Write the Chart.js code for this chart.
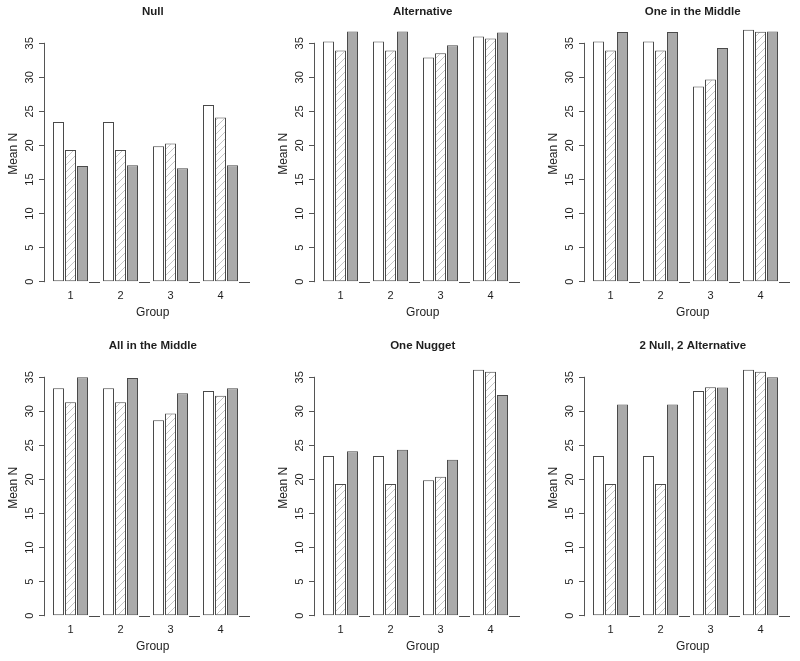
<!DOCTYPE html>
<html>
<head>
<meta charset="utf-8">
<script src="https://cdn.jsdelivr.net/npm/chart.js@4.4.1/dist/chart.umd.min.js"></script>
<style>
  html, body { margin: 0; padding: 0; background: #ffffff; overflow: hidden; width: 800px; height: 661px; }
  canvas.panel { position: absolute; }
</style>
</head>
<body>
<canvas id="p0" class="panel" width="270" height="327" style="left:0px;top:0px"></canvas>
<canvas id="p1" class="panel" width="270" height="327" style="left:270px;top:0px"></canvas>
<canvas id="p2" class="panel" width="270" height="327" style="left:540px;top:0px"></canvas>
<canvas id="p3" class="panel" width="270" height="327" style="left:0px;top:334px"></canvas>
<canvas id="p4" class="panel" width="270" height="327" style="left:270px;top:334px"></canvas>
<canvas id="p5" class="panel" width="270" height="327" style="left:540px;top:334px"></canvas>
<script>
// ---------------- data ----------------
const panelTitles = ['Null', 'Alternative', 'One in the Middle', 'All in the Middle', 'One Nugget', '2 Null, 2 Alternative'];
const groupLabels = ['1', '2', '3', '4'];
const yTickValues = [0, 5, 10, 15, 20, 25, 30, 35];
const seriesNames = ['Series 1', 'Series 2', 'Series 3'];
const xAxisTitle = 'Group';
const yAxisTitle = 'Mean N';

const nullOpen      = [23.45, 23.45, 19.9, 25.95];
const nullHatched   = [19.35, 19.35, 20.3, 24.1];
const nullGrey      = [17.0, 17.1, 16.65, 17.1];

const altOpen       = [35.25, 35.25, 32.9, 36.0];
const altHatched    = [33.95, 33.95, 33.55, 35.7];
const altGrey       = [36.75, 36.75, 34.7, 36.6];

const oneMidOpen    = [35.25, 35.25, 28.65, 37.0];
const oneMidHatched = [33.95, 33.95, 29.7, 36.7];
const oneMidGrey    = [36.65, 36.65, 34.3, 36.75];

const allMidOpen    = [33.4, 33.4, 28.7, 33.0];
const allMidHatched = [31.35, 31.35, 29.7, 32.3];
const allMidGrey    = [35.0, 34.9, 32.65, 33.4];

const nuggetOpen    = [23.45, 23.45, 19.9, 36.1];
const nuggetHatched = [19.35, 19.35, 20.4, 35.8];
const nuggetGrey    = [24.15, 24.35, 22.9, 32.4];

const mixOpen       = [23.45, 23.45, 33.0, 36.1];
const mixHatched    = [19.35, 19.35, 33.55, 35.8];
const mixGrey       = [31.0, 31.0, 33.5, 35.0];

const panelSeries = [
  [nullOpen, nullHatched, nullGrey],
  [altOpen, altHatched, altGrey],
  [oneMidOpen, oneMidHatched, oneMidGrey],
  [allMidOpen, allMidHatched, allMidGrey],
  [nuggetOpen, nuggetHatched, nuggetGrey],
  [mixOpen, mixHatched, mixGrey]
];

// ---------------- styles ----------------
const FONT = "'Liberation Sans', Arial, Helvetica, sans-serif";
const textColor = '#1e1e1e';
const axisColor = '#555555';
const barBorder = '#4a4a4a';
const greyFill = '#aaaaaa';
const hatchColor = '#c6c6c6';
const catPct = 0.72;
const barPct = 0.917;

function makeHatch() {
  const n = 7;
  const c = document.createElement('canvas');
  c.width = n; c.height = n;
  const g = c.getContext('2d');
  g.fillStyle = '#ffffff';
  g.fillRect(0, 0, n, n);
  g.strokeStyle = hatchColor;
  g.lineWidth = 1;
  g.beginPath();
  g.moveTo(0, n); g.lineTo(n, 0);
  g.moveTo(-1, 1); g.lineTo(1, -1);
  g.moveTo(n - 1, n + 1); g.lineTo(n + 1, n - 1);
  g.stroke();
  return g.createPattern(c, 'repeat');
}
const hatch = makeHatch();
const fills = ['#ffffff', hatch, greyFill];

// R-style axis line (0..35) and the flat empty slot after each group
const rAxisPlugin = {
  id: 'rAxis',
  afterDatasetsDraw(chart) {
    const ctx = chart.ctx;
    const yS = chart.scales.y;
    const y0 = Math.round(yS.getPixelForValue(0)) + 0.5;
    ctx.save();
    ctx.strokeStyle = axisColor;
    ctx.lineWidth = 1;
    const ax = Math.round(chart.chartArea.left) - 0.5;
    ctx.beginPath();
    ctx.moveTo(ax, yS.getPixelForValue(yTickValues[0]) + 0.5);
    ctx.lineTo(ax, yS.getPixelForValue(yTickValues[yTickValues.length - 1]) - 0.5);
    ctx.stroke();
    const meta = chart.getDatasetMeta(chart.data.datasets.length - 1);
    ctx.strokeStyle = barBorder;
    meta.data.forEach(el => {
      const p = el.getProps(['x', 'width'], true);
      const slot = p.width / barPct;
      const gap = slot - p.width;
      const start = p.x + p.width / 2 + gap;
      ctx.beginPath();
      ctx.moveTo(start, y0);
      ctx.lineTo(start + p.width, y0);
      ctx.stroke();
    });
    ctx.restore();
  }
};

panelSeries.forEach((series, pi) => {
  const canvas = document.getElementById('p' + pi);
  new Chart(canvas, {
    type: 'bar',
    data: {
      datasets: series.map((vals, k) => ({
        label: seriesNames[k],
        data: vals.map((v, i) => ({ x: i + 1, y: v })),
        backgroundColor: fills[k],
        borderColor: barBorder,
        borderWidth: 1,
        borderSkipped: false,
        categoryPercentage: catPct,
        barPercentage: barPct,
        clip: false
      }))
    },
    options: {
      responsive: false,
      animation: false,
      devicePixelRatio: 1,
      events: [],
      layout: { padding: { left: 0, right: 9.5, top: 0, bottom: 0 } },
      plugins: {
        legend: { display: false },
        tooltip: { enabled: false },
        title: {
          display: true,
          text: panelTitles[pi],
          fullSize: false,
          color: textColor,
          font: { family: FONT, size: 11.5, weight: 'bold' },
          padding: { top: 5.4, bottom: 6.8 }
        }
      },
      scales: {
        x: {
          type: 'linear',
          min: 0.49,
          max: 4.8,
          offset: false,
          afterBuildTicks: s => { s.ticks = groupLabels.map((_, i) => ({ value: i + 1 })); },
          afterFit: s => { s.height = 45.3; },
          grid: { display: false, drawTicks: false },
          border: { display: false },
          ticks: {
            callback: (v, i) => groupLabels[i],
            color: textColor,
            font: { family: FONT, size: 11 },
            padding: 7.7,
            autoSkip: false,
            maxRotation: 0
          },
          title: {
            display: true,
            text: xAxisTitle,
            color: textColor,
            font: { family: FONT, size: 12 },
            padding: { top: 0, bottom: 7.1 }
          }
        },
        y: {
          type: 'linear',
          min: 0,
          max: 37.54,
          afterBuildTicks: s => { s.ticks = yTickValues.map(v => ({ value: v })); },
          afterFit: s => { s.width = 45; },
          grid: { drawOnChartArea: false, drawTicks: true, tickLength: 6, color: axisColor, lineWidth: 1 },
          border: { display: false },
          ticks: {
            minRotation: 90,
            maxRotation: 90,
            crossAlign: 'center',
            padding: 3,
            color: textColor,
            font: { family: FONT, size: 11 }
          },
          title: {
            display: true,
            text: yAxisTitle,
            color: textColor,
            font: { family: FONT, size: 12 },
            padding: { top: 6.1, bottom: 0 }
          }
        }
      }
    },
    plugins: [rAxisPlugin]
  });
});
</script>
</body>
</html>
